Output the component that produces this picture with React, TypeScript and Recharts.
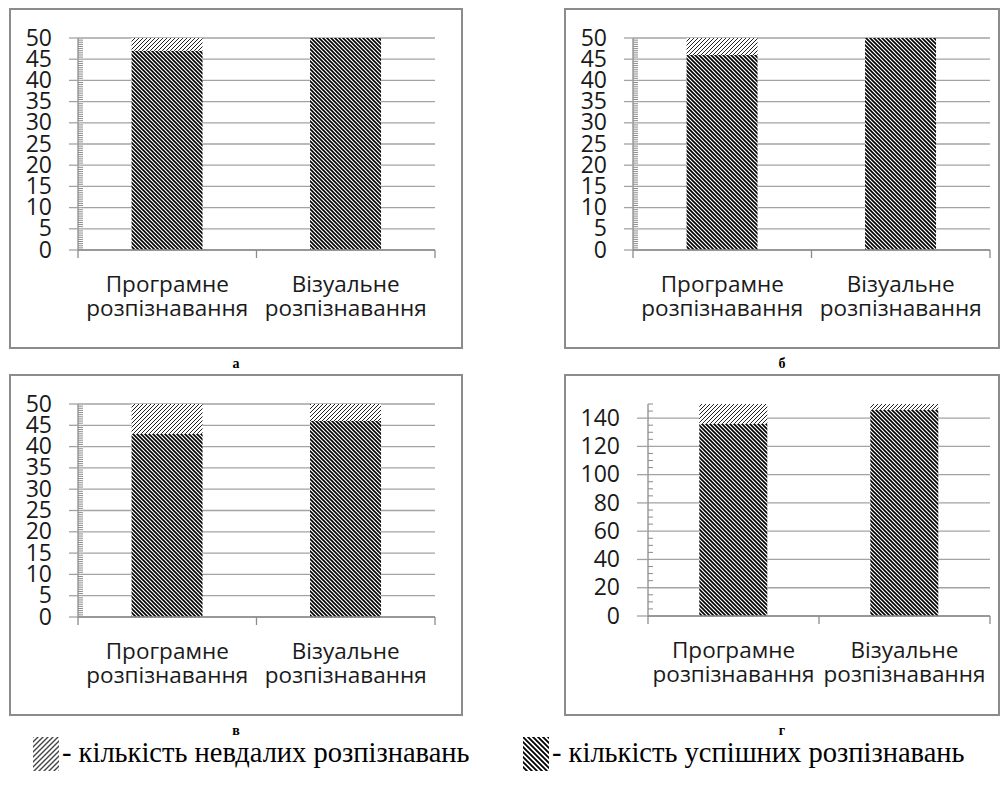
import React from "react";
import { BarChart, Bar, XAxis, YAxis, CartesianGrid } from "recharts";

// Recognition results, four experiments (а, б, в, г). г is the sum of а–в.
const categories = ["Програмне\nрозпізнавання", "Візуальне\nрозпізнавання"];

const successA = [47, 50];
const failA = [3, 0];
const successB = [46, 50];
const failB = [4, 0];
const successC = [43, 46];
const failC = [7, 4];
const successD = [136, 146];
const failD = [14, 4];

const ticks50 = [0, 5, 10, 15, 20, 25, 30, 35, 40, 45, 50];
const ticks150 = [0, 20, 40, 60, 80, 100, 120, 140];

const legendFail = "- кількість невдалих розпізнавань";
const legendSuccess = "- кількість успішних розпізнавань";

// minor tick marks along the value axis
const steps = (to: number, step: number) =>
  Array.from({ length: Math.round(to / step) + 1 }, (_, i) => i * step);

const GRID = "#a3a3a3";
const AXIS = "#8c8c8c";
const TICK_FONT = "'Open Sans', sans-serif";

// value axis: labels + outer tick on majors, short inner tick on minors
function ValueTick(props: any) {
  const { x, y, payload, majors, major } = props;
  const v = payload.value;
  if (majors.includes(v)) {
    return (
      <g>
        <line x1={x - major} x2={x} y1={y} y2={y} stroke={GRID} strokeWidth={1.3} />
        <text
          x={x - major - 17}
          y={y}
          dy="0.33em"
          textAnchor="end"
          fill="#1a1a1a"
          fontSize={23}
          fontFamily={TICK_FONT}
        >
          {v}
        </text>
      </g>
    );
  }
  return <line x1={x} x2={x + 5} y1={y} y2={y} stroke={AXIS} strokeWidth={1} />;
}

// category axis: two-line label, tick marks at the band edges
function CategoryTick(props: any) {
  const { x, y, payload, index, bandHalf } = props;
  const half = payload.offset || bandHalf;
  const lines = String(payload.value).split("\n");
  return (
    <g>
      <line x1={x - half} x2={x - half} y1={y} y2={y + 8} stroke={AXIS} strokeWidth={1.3} />
      {index === categories.length - 1 && (
        <line x1={x + half} x2={x + half} y1={y} y2={y + 8} stroke={AXIS} strokeWidth={1.3} />
      )}
      <text x={x} y={y} textAnchor="middle" fill="#1a1a1a" fontSize={22.5} fontFamily={TICK_FONT}>
        {lines.map((l, i) => (
          <tspan key={i} x={x} dy={i === 0 ? 42 : 24}>
            {l}
          </tspan>
        ))}
      </text>
    </g>
  );
}

interface PanelProps {
  left: number;
  top: number;
  width: number;
  height: number;
  success: number[];
  fail: number[];
  max: number;
  ticks: number[];
  minor: number[];
  yWidth: number;
  right: number;
  bottom: number;
  tickSize: number;
  label: string;
}

function Panel(p: PanelProps) {
  const data = categories.map((name, i) => ({
    name,
    success: p.success[i],
    fail: p.fail[i],
  }));
  const bandHalf = (p.width - 9 - p.yWidth - p.right) / categories.length / 2;
  return (
    <>
      <div
        style={{
          position: "absolute",
          left: p.left,
          top: p.top,
          width: p.width,
          height: p.height,
          border: `2px solid ${AXIS}`,
          boxSizing: "border-box",
        }}
      />
      <div style={{ position: "absolute", left: p.left, top: p.top }}>
        <BarChart
          width={p.width}
          height={p.height}
          data={data}
          margin={{ top: 30, right: p.right, bottom: p.bottom, left: 9 }}
          barCategoryGap="30%"
        >
          <CartesianGrid
            vertical={false}
            horizontalValues={p.ticks}
            stroke={GRID}
            strokeWidth={1.3}
          />
          <YAxis
            type="number"
            domain={[0, p.max]}
            ticks={p.minor}
            interval={0}
            width={p.yWidth}
            tickSize={0}
            tickMargin={0}
            tickLine={false}
            axisLine={{ stroke: AXIS, strokeWidth: 1.3 }}
            tick={<ValueTick majors={p.ticks} major={p.tickSize} />}
          />
          <XAxis
            dataKey="name"
            type="category"
            height={70}
            interval={0}
            tickLine={false}
            axisLine={{ stroke: AXIS, strokeWidth: 1.3 }}
            tickSize={0}
            tickMargin={0}
            tick={<CategoryTick bandHalf={bandHalf} />}
          />
          <Bar dataKey="success" stackId="s" fill="url(#hatchSuccess)" isAnimationActive={false} />
          <Bar dataKey="fail" stackId="s" fill="url(#hatchFail)" isAnimationActive={false} />
        </BarChart>
      </div>
      <div
        style={{
          position: "absolute",
          left: p.left,
          top: p.top + p.height + 7,
          width: p.width,
          textAlign: "center",
          fontFamily: "'Liberation Serif', serif",
          fontWeight: "bold",
          fontSize: 14,
          lineHeight: "16px",
        }}
      >
        {p.label}
      </div>
    </>
  );
}

function Patterns() {
  return (
    <svg width={0} height={0} style={{ position: "absolute" }}>
      <defs>
        <pattern id="hatchSuccess" width={4} height={4} patternUnits="userSpaceOnUse">
          <rect width={4} height={4} fill="#fff" />
          <path d="M-1,-1 L5,5 M-1,3 L1,5 M3,-1 L5,1" stroke="#000" strokeWidth={1.6} />
        </pattern>
        <pattern id="hatchFail" width={4} height={4} patternUnits="userSpaceOnUse">
          <rect width={4} height={4} fill="#fff" />
          <path d="M-1,5 L5,-1 M-1,1 L1,-1 M3,5 L5,3" stroke="#222" strokeWidth={1} />
        </pattern>
        <pattern id="legendSuccess" width={5} height={5} patternUnits="userSpaceOnUse">
          <rect width={5} height={5} fill="#fff" />
          <path d="M-1,-1 L6,6 M-1,4 L1,6 M4,-1 L6,1" stroke="#000" strokeWidth={1.8} />
        </pattern>
        <pattern id="legendFail" width={5} height={5} patternUnits="userSpaceOnUse">
          <rect width={5} height={5} fill="#fff" />
          <path d="M-1,6 L6,-1 M-1,1 L1,-1 M4,6 L6,4" stroke="#444" strokeWidth={1.4} />
        </pattern>
      </defs>
    </svg>
  );
}

function LegendItem({ left, fill, text }: { left: number; fill: string; text: string }) {
  return (
    <div
      style={{
        position: "absolute",
        left,
        top: 737,
        height: 34,
        display: "flex",
        alignItems: "center",
        fontFamily: "'Liberation Serif', serif",
        fontSize: 28.5,
        color: "#000",
        whiteSpace: "nowrap",
      }}
    >
      <svg width={26} height={34} style={{ marginRight: 3, flex: "none" }}>
        <rect width={26} height={34} fill={fill} />
      </svg>
      <span style={{ position: "relative", top: -1 }}>{text}</span>
    </div>
  );
}

export default function App() {
  return (
    <div
      style={{
        position: "absolute",
        left: 0,
        top: 0,
        width: 1008,
        height: 788,
        background: "#fff",
        overflow: "hidden",
      }}
    >
      <Patterns />
      <Panel left={9} top={8} width={454} height={341} success={successA} fail={failA}
        max={50} ticks={ticks50} minor={steps(50, 0.5)} yWidth={60} right={28} bottom={29}
        tickSize={9} label="а" />
      <Panel left={564} top={8} width={436} height={341} success={successB} fail={failB}
        max={50} ticks={ticks50} minor={steps(50, 0.5)} yWidth={60} right={10} bottom={29}
        tickSize={9} label="б" />
      <Panel left={9} top={374} width={454} height={342} success={successC} fail={failC}
        max={50} ticks={ticks50} minor={steps(50, 0.5)} yWidth={60} right={28} bottom={29}
        tickSize={9} label="в" />
      <Panel left={564} top={374} width={436} height={342} success={successD} fail={failD}
        max={150} ticks={ticks150} minor={steps(150, 5)} yWidth={75} right={10} bottom={30}
        tickSize={11} label="г" />
      <LegendItem left={33} fill="url(#legendFail)" text={legendFail} />
      <LegendItem left={523} fill="url(#legendSuccess)" text={legendSuccess} />
    </div>
  );
}
